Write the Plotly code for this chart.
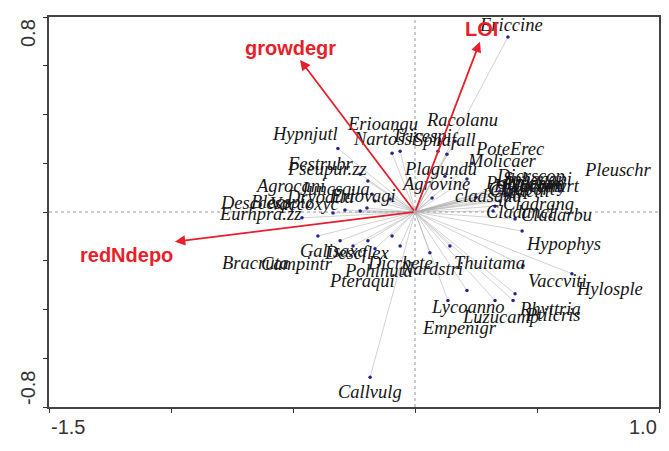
import plotly.graph_objects as go

# ---- data: species scores (axis 1, axis 2) ----
species = ["Ericcine", "Hypnjutl", "Erioangu", "Nartossi", "Tricespi", "Sphafall", "Racolanu",
           "Plagundu", "Agrovine", "PoteErec", "Molicaer", "cladsqua", "Dicrscop", "Polycomm",
           "Sphacapi", "Cladport", "Vaccmyrt", "Cladcili", "Pleuschr", "Cladrang", "Cladunci",
           "Cladarbu", "Hypophys", "Thuitama", "Vaccviti", "Hylosple", "Rhyttria", "Ptilcris",
           "Lycoanno", "Luzucamp", "Empenigr", "Nardstri", "Dicrbete", "Pohlnuta", "Pteraqui",
           "Galisaxa", "Descflex", "Campintr", "Bracruta", "Callvulg", "Festrubr", "Pseupur.zz",
           "Agrocani", "Juncsqua", "Eriovagi", "Dryodila", "Desccesp", "Blecspic", "Vaccoxyc",
           "Eurhpra.zz", "Ptilcili", "Hylocomi"]
sp_x = [0.381, -0.316, -0.094, -0.061, 0.094, 0.131, 0.164,
        0.123, 0.070, 0.234, 0.213, 0.250, 0.369, 0.348,
        0.389, 0.381, 0.410, 0.348, 0.594, 0.328, 0.320,
        0.410, 0.439, 0.143, 0.443, 0.643, 0.410, 0.402,
        0.213, 0.328, 0.135, 0.061, -0.061, -0.094, -0.164,
        -0.254, -0.193, -0.307, -0.398, -0.184, -0.225, -0.193,
        -0.176, -0.164, -0.102, -0.197, -0.336, -0.287, -0.225,
        -0.463, 0.369, 0.389]
sp_y = [0.718, 0.261, 0.241, 0.249, 0.249, 0.237, 0.290,
        0.147, 0.057, 0.200, 0.135, 0.061, 0.106, 0.086,
        0.114, 0.065, 0.086, 0.045, 0.086, 0.024, 0.004,
        -0.029, -0.078, -0.139, -0.220, -0.253, -0.335, -0.363,
        -0.322, -0.363, -0.363, -0.167, -0.139, -0.098, -0.151,
        -0.139, -0.118, -0.118, -0.098, -0.678, 0.155, 0.127,
        0.073, 0.045, 0.053, 0.016, -0.004, 0.008, 0.004,
        -0.024, 0.078, 0.094]

# ---- data: environmental variables ----
env_names = ["growdegr", "LOI", "redNdepo"]
env_x = [-0.471, 0.266, -0.984]
env_y = [0.624, 0.698, -0.122]

x_ticks = [-1.5, -1.0, -0.5, 0.0, 0.5, 1.0]
y_ticks = [-0.8, -0.6, -0.4, -0.2, 0.0, 0.2, 0.4, 0.6, 0.8]
x_labels = {-1.5: "-1.5", 1.0: "1.0"}
y_labels = {-0.8: "-0.8", 0.8: "0.8"}

# ---- styling: label offsets in pixels (dx, dy up) ----
lab_off = {
    "Ericcine": (3, 12), "Hypnjutl": (-33, 14), "Erioangu": (-10, 29), "Nartossi": (-15, 12),
    "Tricespi": (-16, 15), "Sphafall": (-2, 14), "Racolanu": (7, 21), "Plagundu": (-5, 7),
    "Agrovine": (3, 14), "PoteErec": (38, 14), "Molicaer": (35, 18), "cladsqua": (12, 1),
    "Dicrscop": (25, 10), "Polycomm": (25, 8), "Sphacapi": (28, 5), "Cladport": (14, 7),
    "Vaccmyrt": (30, 5), "Cladcili": (20, 10), "Pleuschr": (58, 21), "Cladrang": (43, 2),
    "Cladunci": (27, -1), "Cladarbu": (41, 4), "Hypophys": (41, -13), "Thuitama": (40, -17),
    "Vaccviti": (34, -15), "Hylosple": (38, -15), "Rhyttria": (35, -15), "Ptilcris": (39, -15),
    "Lycoanno": (1, -17), "Luzucamp": (5, -17), "Empenigr": (12, -28), "Nardstri": (2, -16),
    "Dicrbete": (0, -17), "Pohlnuta": (-14, -35), "Pteraqui": (-13, -32), "Galisaxa": (-20, -5),
    "Descflex": (-11, -12), "Campintr": (-43, -23), "Bracruta": (-62, -27), "Callvulg": (0, -15),
    "Festrubr": (-40, 10), "Pseupur.zz": (-41, 12), "Agrocani": (-82, 8), "Juncsqua": (-40, 12),
    "Eriovagi": (-27, 3), "Dryodila": (-47, 11), "Desccesp": (-78, 10), "Blecspic": (-62, 8),
    "Vaccoxyc": (-55, 7), "Eurhpra.zz": (-42, 4), "Ptilcili": (22, 10), "Hylocomi": (20, 3),
}
env_off = {"growdegr": (-10, 12), "LOI": (2, 13), "redNdepo": (-48, -13)}

RED = "rgb(232,30,42)"
fig = go.Figure()

# gray lines from origin to each species
lx, ly = [], []
for x, y in zip(sp_x, sp_y):
    lx += [0, x, None]
    ly += [0, y, None]
fig.add_trace(go.Scatter(x=lx, y=ly, mode="lines",
                         line=dict(color="rgba(175,175,175,0.7)", width=0.8),
                         hoverinfo="skip", showlegend=False))
fig.add_trace(go.Scatter(x=sp_x, y=sp_y, mode="markers",
                         marker=dict(size=3.5, color="#24248f"),
                         text=species, showlegend=False))

# zero lines
fig.add_shape(type="line", x0=-1.5, x1=1.0, y0=0, y1=0,
              line=dict(color="#9a9a9a", width=1, dash="dot"), layer="below")
fig.add_shape(type="line", x0=0, x1=0, y0=-0.8, y1=0.8,
              line=dict(color="#9a9a9a", width=1, dash="dot"), layer="below")

annotations = []
for name, x, y in zip(species, sp_x, sp_y):
    dx, dy = lab_off.get(name, (0, 12))
    annotations.append(dict(x=x, y=y, xref="x", yref="y", text="<i>" + name + "</i>",
                            showarrow=False, xshift=dx, yshift=dy,
                            font=dict(family="Liberation Serif", size=18.5, color="#151515"),
                            xanchor="center", yanchor="middle"))

for name, x, y in zip(env_names, env_x, env_y):
    annotations.append(dict(x=x, y=y, ax=0, ay=0, xref="x", yref="y", axref="x", ayref="y",
                            showarrow=True, arrowhead=2, arrowsize=1.15, arrowwidth=1.8,
                            arrowcolor=RED, text=""))
    dx, dy = env_off[name]
    annotations.append(dict(x=x, y=y, xref="x", yref="y", text="<b>" + name + "</b>",
                            showarrow=False, xshift=dx, yshift=dy,
                            font=dict(family="Liberation Sans", size=20, color=RED)))

for v, t in x_labels.items():
    annotations.append(dict(x=v, y=0, xref="x", yref="paper", text=t, showarrow=False,
                            xanchor="left" if v < 0 else "right", yanchor="top", yshift=-7,
                            font=dict(family="Liberation Sans", size=20, color="#333")))
for v, t in y_labels.items():
    annotations.append(dict(x=0, y=v, xref="paper", yref="y", text=t, showarrow=False,
                            textangle=-90, xanchor="right", xshift=-8,
                            yanchor="top" if v > 0 else "bottom",
                            font=dict(family="Liberation Sans", size=20, color="#333")))

fig.update_layout(
    width=669, height=451,
    margin=dict(l=41, r=18, t=7, b=52),
    paper_bgcolor="white", plot_bgcolor="white",
    annotations=annotations,
    showlegend=False,
    xaxis=dict(range=[-1.5, 1.0], tickvals=x_ticks, showticklabels=False, ticks="outside",
               ticklen=4, tickcolor="#333", showgrid=False, zeroline=False, showline=True,
               linecolor="#444", linewidth=1.5, mirror=True, fixedrange=True),
    yaxis=dict(range=[-0.8, 0.8], tickvals=y_ticks, showticklabels=False, ticks="outside",
               ticklen=4, tickcolor="#333", showgrid=False, zeroline=False, showline=True,
               linecolor="#444", linewidth=1.5, mirror=True, fixedrange=True),
)

fig.write_html("out.html")
